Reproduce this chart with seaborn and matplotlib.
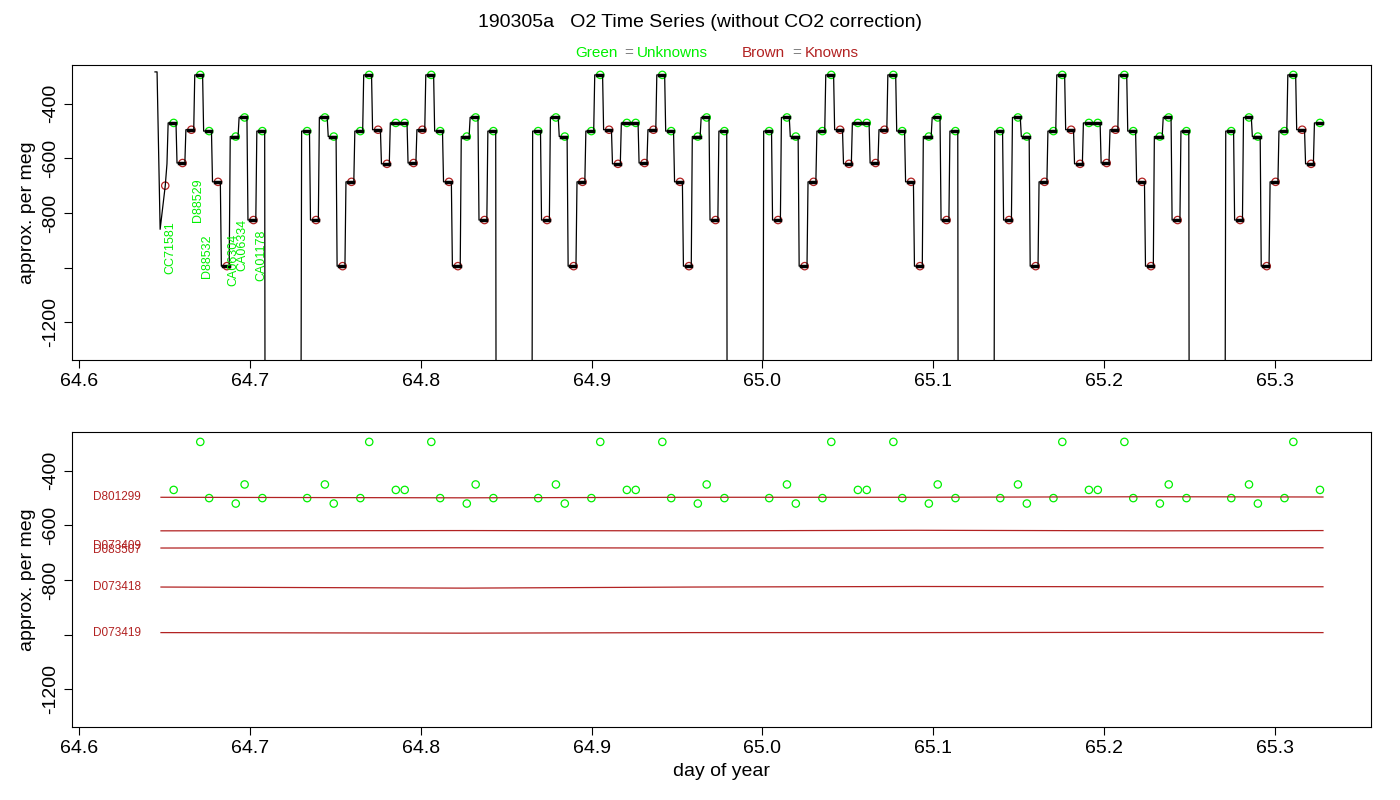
import numpy as np
import pandas as pd
import matplotlib
matplotlib.use("Agg")
import matplotlib.pyplot as plt
import seaborn as sns

# ── Data ──────────────────────────────────────────────────────────────────────
# one measurement cycle: level of each step (per meg) and whether it is a known
step_levels = [-500, -826, -450, -520, -995, -686, -500, -294, -495, -620, -470,
               -470, -617, -495, -294, -500, -686, -995, -520, -450, -826, -500]
step_known = [0, 1, 0, 0, 1, 1, 0, 0, 1, 1, 0,
              0, 1, 1, 0, 0, 1, 1, 0, 0, 1, 0]
cycle_starts = [64.5947, 64.7299, 64.8651, 65.0003, 65.1355, 65.2707]
cycle_first_step = [11, 0, 0, 0, 0, 0]
cycle_last_step = [21, 21, 21, 21, 21, 10]
step_width = 0.00519
start_spike = [(64.6445, -283), (64.6457, -283), (64.6475, -860), (64.6505, -700), (64.6515, -620)]

unknown_labels = ["CC71581", "D88529", "D88532", "CA06304", "CA06334", "CA01178"]
unknown_label_x = [64.6533, 64.6696, 64.6749, 64.6901, 64.6954, 64.7065]
unknown_label_y = [-1022, -835, -1040, -1066, -1011, -1048]

known_names = ["D801299", "D073409", "D083507", "D073418", "D073419"]
known_label_y = [-497, -677, -690, -826, -993]
known_line_levels = [-497, -620, -683, -826, -993]
known_line_wobble = [[0, -2, 0, 0, 2, 1], [0, 1, 0, 2, 0, 1],
                     [0, 1, 0, 0, 1, 1], [0, -4, 0, 2, 1, 1], [0, -2, 0, 0, 1, 0]]
known_line_x = [64.648, 64.825, 64.96, 65.09, 65.23, 65.328]

# ── Build series ──────────────────────────────────────────────────────────────
t, v = [p[0] for p in start_spike], [p[1] for p in start_spike]
pts = []
for c, cs in enumerate(cycle_starts):
    if c > 0:
        t.append(cs - 0.0005); v.append(-3000)
    for s in range(cycle_first_step[c], cycle_last_step[c] + 1):
        a = cs + s * step_width
        t += [a + 0.0004, a + step_width - 0.0002]
        v += [step_levels[s], step_levels[s]]
        pts.append((a + 0.7 * step_width, step_levels[s], step_known[s]))
    if c < len(cycle_starts) - 1:
        t.append(cs + (cycle_last_step[c] + 1) * step_width + 0.0003); v.append(-3000)
series = pd.DataFrame({"t": t, "v": v})
marks = pd.DataFrame(pts, columns=["t", "v", "known"])

GREEN, BROWN = "#00F000", "#B22222"
plt.rcParams["font.family"] = "Liberation Sans"
fig = plt.figure(figsize=(14, 8), dpi=100)
ax1 = fig.add_axes([0.0514, 0.55, 0.928, 0.369])
ax2 = fig.add_axes([0.0514, 0.09125, 0.928, 0.369])

sns.lineplot(data=series, x="t", y="v", ax=ax1, color="black", lw=0.9,
             sort=False, estimator=None)
for _, r in marks.iterrows():
    ax1.plot([r.t - 0.002, r.t + 0.001], [r.v, r.v], color="black", lw=2.5)
sns.scatterplot(data=marks[marks.known == 0], x="t", y="v", ax=ax1, s=28,
                facecolor="none", edgecolor=GREEN, linewidth=0.9)
sns.scatterplot(data=marks[marks.known == 1], x="t", y="v", ax=ax1, s=28,
                facecolor="none", edgecolor=BROWN, linewidth=0.9)
ax1.scatter([64.6505], [-700], s=28, facecolor="none", edgecolor=BROWN, linewidth=0.9)
for name, x, y in zip(unknown_labels, unknown_label_x, unknown_label_y):
    ax1.text(x, y, name, rotation=90, color=GREEN, fontsize=9, ha="center", va="bottom")

# bottom panel
for i, lvl in enumerate(known_line_levels):
    ax2.plot(known_line_x, [lvl + w for w in known_line_wobble[i]], color=BROWN, lw=0.9)
for name, y in zip(known_names, known_label_y):
    ax2.text(64.608, y, name, color=BROWN, fontsize=8.5, va="center")
sns.scatterplot(data=marks[marks.known == 0], x="t", y="v", ax=ax2, s=28,
                facecolor="none", edgecolor=GREEN, linewidth=0.9)

for ax in (ax1, ax2):
    ax.set_xlim(64.5959, 65.3562)
    ax.set_ylim(-1339, -257)
    ax.set_xticks([64.6, 64.7, 64.8, 64.9, 65.0, 65.1, 65.2, 65.3])
    ax.set_xticklabels(["64.6", "64.7", "64.8", "64.9", "65.0", "65.1", "65.2", "65.3"], fontsize=14)
    ax.set_yticks([-400, -600, -800, -1000, -1200])
    ax.set_yticklabels(["-400", "-600", "-800", "", "-1200"], rotation=90, va="center", fontsize=14)
    ax.set_ylabel("approx. per meg", fontsize=14)
    ax.set_xlabel("")
    ax.tick_params(direction="out", length=6)
ax2.set_xlabel("day of year", fontsize=14)

fig.text(0.5, 0.966, "190305a   O2 Time Series (without CO2 correction)", ha="center", fontsize=14)
fig.text(0.411, 0.929, "Green", color=GREEN, fontsize=11)
fig.text(0.446, 0.929, "=", color="gray", fontsize=11)
fig.text(0.455, 0.929, "Unknowns", color=GREEN, fontsize=11)
fig.text(0.530, 0.929, "Brown", color=BROWN, fontsize=11)
fig.text(0.566, 0.929, "=", color="gray", fontsize=11)
fig.text(0.575, 0.929, "Knowns", color=BROWN, fontsize=11)

fig.savefig("out.png", dpi=100)
